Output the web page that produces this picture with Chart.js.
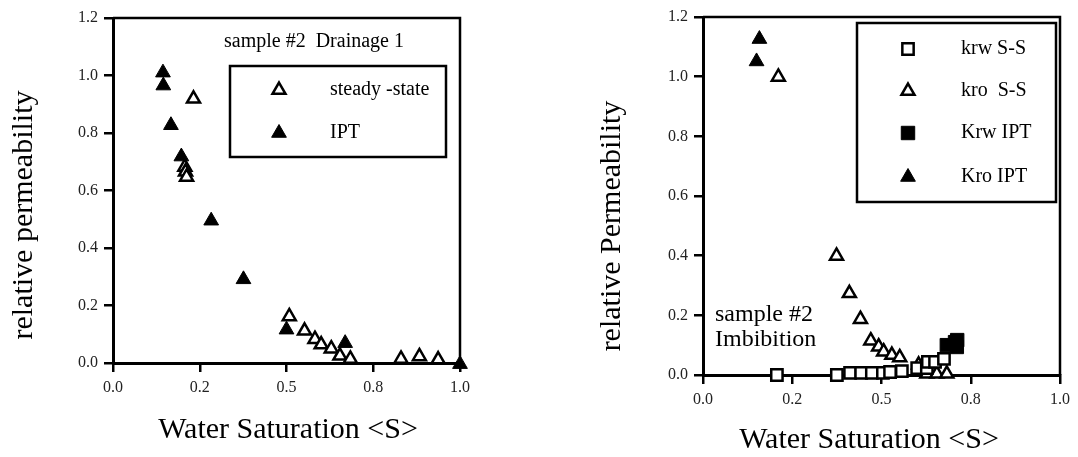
<!DOCTYPE html>
<html>
<head>
<meta charset="utf-8">
<script src="https://cdn.jsdelivr.net/npm/chart.js@4/dist/chart.umd.min.js"></script>
<style>
  body { margin: 0; background: #fff; }
  #wrap { position: relative; width: 1078px; height: 457px; }
  canvas { position: absolute; top: 0; }
  #left { left: 0; }
  #right { left: 540px; }
</style>
</head>
<body>
<div id="wrap">
  <canvas id="left" width="540" height="457"></canvas>
  <canvas id="right" width="538" height="457"></canvas>
</div>
<script>
// tick values and their printed labels (the source rounds 0.25 -> 0.2, 0.75 -> 0.8)
const xTickValues = [0, 0.25, 0.5, 0.75, 1.0];
const xTickLabels = ["0.0", "0.2", "0.5", "0.8", "1.0"];
const yTickValues = [0, 0.2, 0.4, 0.6, 0.8, 1.0, 1.2];
const yTickLabels = ["0.0", "0.2", "0.4", "0.6", "0.8", "1.0", "1.2"];

// Drainage 1 (left)
const drainSteadyState = [
  [0.232, 0.919], [0.207, 0.682], [0.209, 0.665], [0.212, 0.647],
  [0.508, 0.162], [0.552, 0.112], [0.582, 0.083], [0.600, 0.064],
  [0.629, 0.050], [0.654, 0.025], [0.684, 0.014], [0.830, 0.014],
  [0.883, 0.023], [0.937, 0.012]
];
const drainIPT = [
  [0.144, 1.010], [0.145, 0.965], [0.167, 0.827], [0.197, 0.718],
  [0.283, 0.495], [0.376, 0.291], [0.500, 0.116], [0.669, 0.069],
  [1.000, -0.004]
];

// Imbibition (right)
const imbKrwSS = [
  [0.207, 0.000], [0.375, 0.000], [0.412, 0.007], [0.443, 0.007],
  [0.473, 0.007], [0.504, 0.007], [0.524, 0.010], [0.557, 0.013],
  [0.600, 0.023], [0.627, 0.023], [0.630, 0.044], [0.650, 0.044],
  [0.675, 0.054]
];
const imbKroSS = [
  [0.211, 0.999], [0.374, 0.399], [0.410, 0.274], [0.441, 0.187],
  [0.470, 0.115], [0.492, 0.095], [0.506, 0.078], [0.529, 0.067],
  [0.551, 0.059], [0.604, 0.034], [0.627, 0.004], [0.655, 0.004],
  [0.683, 0.004]
];
const imbKrwIPT = [
  [0.683, 0.100], [0.706, 0.110], [0.711, 0.094], [0.712, 0.117]
];
const imbKroIPT = [
  [0.158, 1.126], [0.150, 1.051]
];

const SERIF = "'Liberation Serif', 'DejaVu Serif', serif";

function pts(arr) {
  return arr.map(p => ({ x: p[0], y: p[1] }));
}

// marker styles
const openTri = { pointStyle: "triangle", pointRadius: 7.5, backgroundColor: "#fff", borderColor: "#000", borderWidth: 2.5 };
const fillTri = { pointStyle: "triangle", pointRadius: 8.5, backgroundColor: "#000", borderColor: "#000", borderWidth: 1 };
const openSq = { pointStyle: "rect", pointRadius: 8, backgroundColor: "#fff", borderColor: "#000", borderWidth: 2.5 };
const fillSq = { pointStyle: "rect", pointRadius: 9.5, backgroundColor: "#000", borderColor: "#000", borderWidth: 1 };

// frame, axis titles, annotation text and boxed legend
const panelDecor = {
  id: "panelDecor",
  afterDraw(chart, args, o) {
    const ctx = chart.ctx;
    const a = chart.chartArea;
    ctx.save();
    ctx.strokeStyle = "#000";
    ctx.lineWidth = 2.5;
    ctx.beginPath();
    ctx.moveTo(a.left, a.top);
    ctx.lineTo(a.right, a.top);
    ctx.lineTo(a.right, a.bottom);
    ctx.stroke();

    ctx.fillStyle = "#000";
    ctx.textAlign = "center";
    ctx.textBaseline = "middle";
    ctx.font = "30px " + SERIF;
    ctx.fillText("Water Saturation <S>", o.xTitle[0], o.xTitle[1]);
    ctx.save();
    ctx.translate(o.yTitle[0], o.yTitle[1]);
    ctx.rotate(-Math.PI / 2);
    ctx.fillText(o.yTitleText, 0, 0);
    ctx.restore();

    ctx.textAlign = "left";
    ctx.font = o.noteFont + "px " + SERIF;
    o.note.forEach(n => ctx.fillText(n.text, n.x, n.y));

    const b = o.legendBox;
    ctx.lineWidth = 2.5;
    ctx.strokeRect(b[0], b[1], b[2] - b[0], b[3] - b[1]);
    ctx.font = "20px " + SERIF;
    chart.data.datasets.forEach((ds, i) => {
      const y = o.legendRows[i];
      ctx.fillStyle = ds.backgroundColor;
      ctx.strokeStyle = ds.borderColor;
      ctx.lineWidth = ds.borderWidth;
      Chart.helpers.drawPoint(ctx, {
        pointStyle: ds.pointStyle, radius: ds.pointRadius,
        borderWidth: ds.borderWidth, rotation: 0
      }, o.legendMarkerX, y);
      ctx.fillStyle = "#000";
      ctx.fillText(ds.label, o.legendTextX, y);
    });
    ctx.restore();
  }
};

function axisOpts(values, labels, min, max, fitKey, fitSize) {
  return {
    type: "linear",
    min: min,
    max: max,
    afterBuildTicks: s => { s.ticks = values.map(v => ({ value: v })); },
    afterFit: s => { s[fitKey] = fitSize; },
    ticks: {
      autoSkip: false,
      maxRotation: 0,
      padding: 6,
      color: "#222",
      font: { family: SERIF, size: 16 },
      callback: v => labels[values.indexOf(v)]
    },
    grid: { drawOnChartArea: false, drawTicks: true, tickLength: 9, color: "#000", lineWidth: 2.5 },
    border: { display: true, color: "#000", width: 3 }
  };
}

function makePanel(id, datasets, pad, yWidth, decor) {
  return new Chart(document.getElementById(id), {
    type: "scatter",
    data: { datasets: datasets },
    options: {
      responsive: false,
      animation: false,
      layout: { padding: pad },
      scales: {
        x: axisOpts(xTickValues, xTickLabels, 0, 1, "height", 30),
        y: axisOpts(yTickValues, yTickLabels, 0, 1.2, "width", yWidth)
      },
      elements: { point: { hoverRadius: 8 } },
      plugins: {
        legend: { display: false },
        tooltip: { enabled: false },
        panelDecor: decor
      }
    },
    plugins: [panelDecor]
  });
}

makePanel("left", [
  Object.assign({ label: "steady -state", data: pts(drainSteadyState), clip: false }, openTri),
  Object.assign({ label: "IPT", data: pts(drainIPT), clip: false }, fillTri)
], { left: 0, right: 80, top: 18, bottom: 64 }, 113, {
  xTitle: [288, 430],
  yTitle: [24, 215],
  yTitleText: "relative permeability",
  noteFont: 20,
  note: [{ text: "sample #2  Drainage 1", x: 224, y: 42 }],
  legendBox: [230, 66, 446, 157],
  legendRows: [90, 133],
  legendMarkerX: 279,
  legendTextX: 330
});

makePanel("right", [
  Object.assign({ label: "krw S-S", data: pts(imbKrwSS), clip: false }, openSq),
  Object.assign({ label: "kro  S-S", data: pts(imbKroSS), clip: false }, openTri),
  Object.assign({ label: "Krw IPT", data: pts(imbKrwIPT), clip: false }, fillSq),
  Object.assign({ label: "Kro IPT", data: pts(imbKroIPT), clip: false }, fillTri)
], { left: 0, right: 18, top: 17, bottom: 52 }, 163, {
  xTitle: [329, 440],
  yTitle: [72, 226],
  yTitleText: "relative Permeability",
  noteFont: 24,
  note: [{ text: "sample #2", x: 175, y: 315 }, { text: "Imbibition", x: 175, y: 340 }],
  legendBox: [317, 23, 516, 202],
  legendRows: [49, 91, 133, 177],
  legendMarkerX: 368,
  legendTextX: 421
});
</script>
</body>
</html>
